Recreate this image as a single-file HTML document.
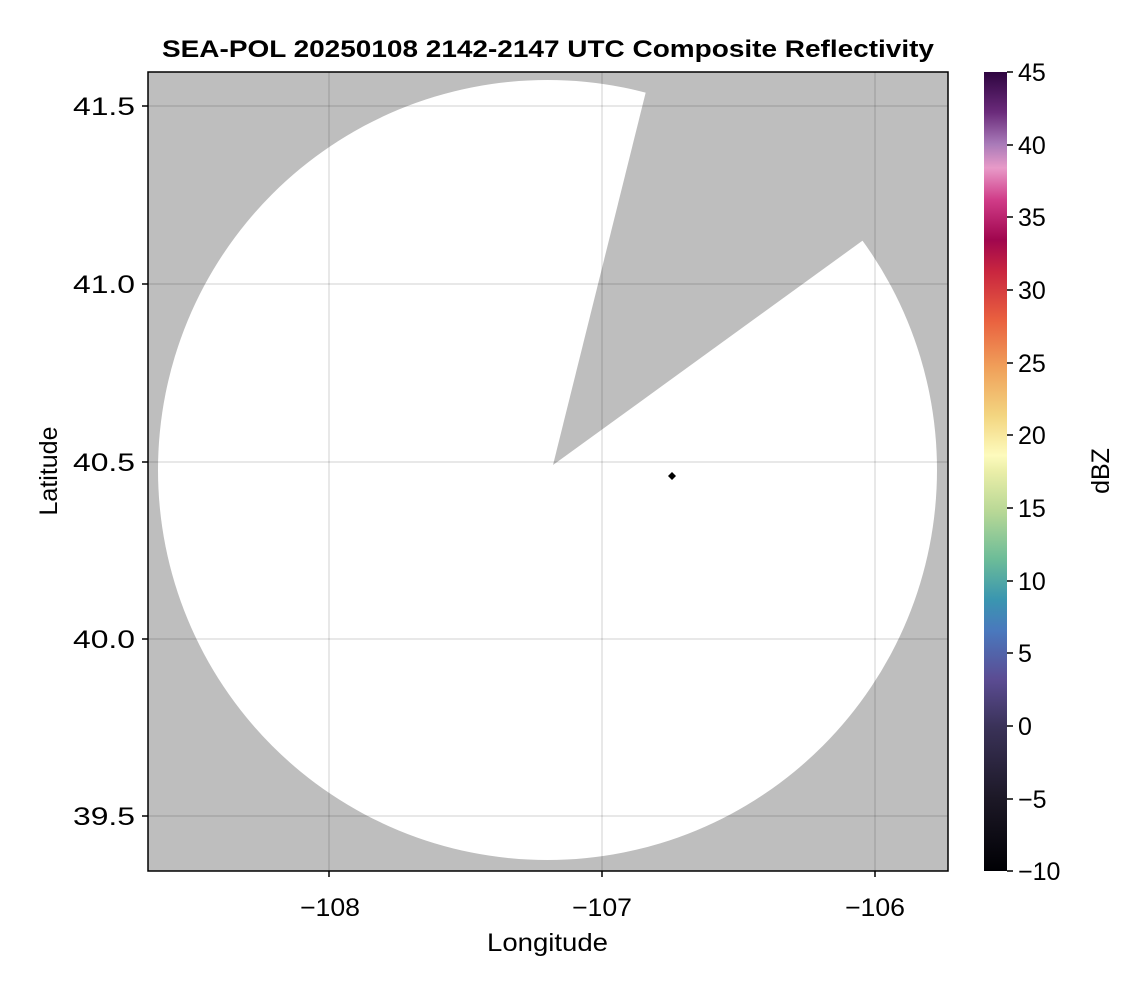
<!DOCTYPE html>
<html><head><meta charset="utf-8"><style>
body{margin:0;background:#fff;}
svg text{font-family:"Liberation Sans",sans-serif;fill:#000;}
</style></head><body>
<svg width="1146" height="990" viewBox="0 0 1146 990" xmlns="http://www.w3.org/2000/svg">
<defs>
<clipPath id="pc"><rect x="148" y="72" width="800" height="799"/></clipPath>
<linearGradient id="cb" x1="0" y1="1" x2="0" y2="0">
<stop offset="0" stop-color="#000004"/>
<stop offset="0.09" stop-color="#1c1826"/>
<stop offset="0.18" stop-color="#3a3258"/>
<stop offset="0.24" stop-color="#5b4c93"/>
<stop offset="0.30" stop-color="#4a78bd"/>
<stop offset="0.34" stop-color="#3a96b0"/>
<stop offset="0.39" stop-color="#6cbc98"/>
<stop offset="0.45" stop-color="#b8d896"/>
<stop offset="0.50" stop-color="#eaeea8"/>
<stop offset="0.52" stop-color="#fdfbbd"/>
<stop offset="0.57" stop-color="#f3d580"/>
<stop offset="0.63" stop-color="#f0a05a"/>
<stop offset="0.69" stop-color="#e9603f"/>
<stop offset="0.75" stop-color="#c9263f"/>
<stop offset="0.79" stop-color="#a0064e"/>
<stop offset="0.84" stop-color="#d03c88"/>
<stop offset="0.88" stop-color="#e89ac8"/>
<stop offset="0.91" stop-color="#a87ab8"/>
<stop offset="0.95" stop-color="#6a2a7a"/>
<stop offset="1" stop-color="#2e0540"/>
</linearGradient>
</defs>
<text x="162" y="57" font-size="24" font-weight="bold" textLength="772" lengthAdjust="spacingAndGlyphs">SEA-POL 20250108 2142-2147 UTC Composite Reflectivity</text>
<g clip-path="url(#pc)">
<rect x="148" y="72" width="800" height="799" fill="#bebebe"/>
<ellipse cx="547.5" cy="470" rx="389.5" ry="390" fill="#fff"/>
<polygon points="553,465 663,23 960,170" fill="#bebebe"/>
<g stroke="#000" stroke-opacity="0.12" stroke-width="1.5">
<line x1="329" y1="72" x2="329" y2="871"/><line x1="602" y1="72" x2="602" y2="871"/><line x1="875" y1="72" x2="875" y2="871"/>
<line x1="148" y1="106" x2="948" y2="106"/><line x1="148" y1="284" x2="948" y2="284"/><line x1="148" y1="462" x2="948" y2="462"/><line x1="148" y1="639" x2="948" y2="639"/><line x1="148" y1="816" x2="948" y2="816"/>
</g>
<polygon points="672,472 676,476 672,480 668,476" fill="#000"/>
</g>
<rect x="148" y="72" width="800" height="799" fill="none" stroke="#000" stroke-width="1.5"/>
<g stroke="#000" stroke-width="1.5">
<line x1="329" y1="871" x2="329" y2="877"/><line x1="602" y1="871" x2="602" y2="877"/><line x1="875" y1="871" x2="875" y2="877"/>
<line x1="142" y1="106" x2="148" y2="106"/><line x1="142" y1="284" x2="148" y2="284"/><line x1="142" y1="462" x2="148" y2="462"/><line x1="142" y1="639" x2="148" y2="639"/><line x1="142" y1="816" x2="148" y2="816"/>
</g>
<g font-size="25">
<text x="300" y="916" textLength="60" lengthAdjust="spacingAndGlyphs">−108</text><text x="572" y="916" textLength="60" lengthAdjust="spacingAndGlyphs">−107</text><text x="845" y="916" textLength="60" lengthAdjust="spacingAndGlyphs">−106</text>
<text x="487" y="951" textLength="121" lengthAdjust="spacingAndGlyphs">Longitude</text>
</g>
<g font-size="25">
<text x="73" y="115" textLength="62" lengthAdjust="spacingAndGlyphs">41.5</text><text x="73" y="293" textLength="62" lengthAdjust="spacingAndGlyphs">41.0</text><text x="73" y="471" textLength="62" lengthAdjust="spacingAndGlyphs">40.5</text><text x="73" y="648" textLength="62" lengthAdjust="spacingAndGlyphs">40.0</text><text x="73" y="825" textLength="62" lengthAdjust="spacingAndGlyphs">39.5</text>
</g>
<text transform="translate(57,471) rotate(-90)" font-size="25" text-anchor="middle">Latitude</text>
<rect x="984" y="72" width="23" height="799" fill="url(#cb)"/>
<g stroke="#000" stroke-width="1.5">
<line x1="1007" y1="72" x2="1013" y2="72"/><line x1="1007" y1="145" x2="1013" y2="145"/><line x1="1007" y1="217" x2="1013" y2="217"/><line x1="1007" y1="290" x2="1013" y2="290"/><line x1="1007" y1="363" x2="1013" y2="363"/><line x1="1007" y1="435" x2="1013" y2="435"/><line x1="1007" y1="508" x2="1013" y2="508"/><line x1="1007" y1="581" x2="1013" y2="581"/><line x1="1007" y1="653" x2="1013" y2="653"/><line x1="1007" y1="726" x2="1013" y2="726"/><line x1="1007" y1="799" x2="1013" y2="799"/><line x1="1007" y1="871" x2="1013" y2="871"/>
</g>
<g font-size="25">
<text x="1018" y="81">45</text><text x="1018" y="154">40</text><text x="1018" y="226">35</text><text x="1018" y="299">30</text><text x="1018" y="372">25</text><text x="1018" y="444">20</text><text x="1018" y="517">15</text><text x="1018" y="590">10</text><text x="1018" y="662">5</text><text x="1018" y="735">0</text><text x="1018" y="808">−5</text><text x="1018" y="880">−10</text>
</g>
<text transform="translate(1109,471) rotate(-90)" font-size="25" text-anchor="middle">dBZ</text>
</svg>
</body></html>
